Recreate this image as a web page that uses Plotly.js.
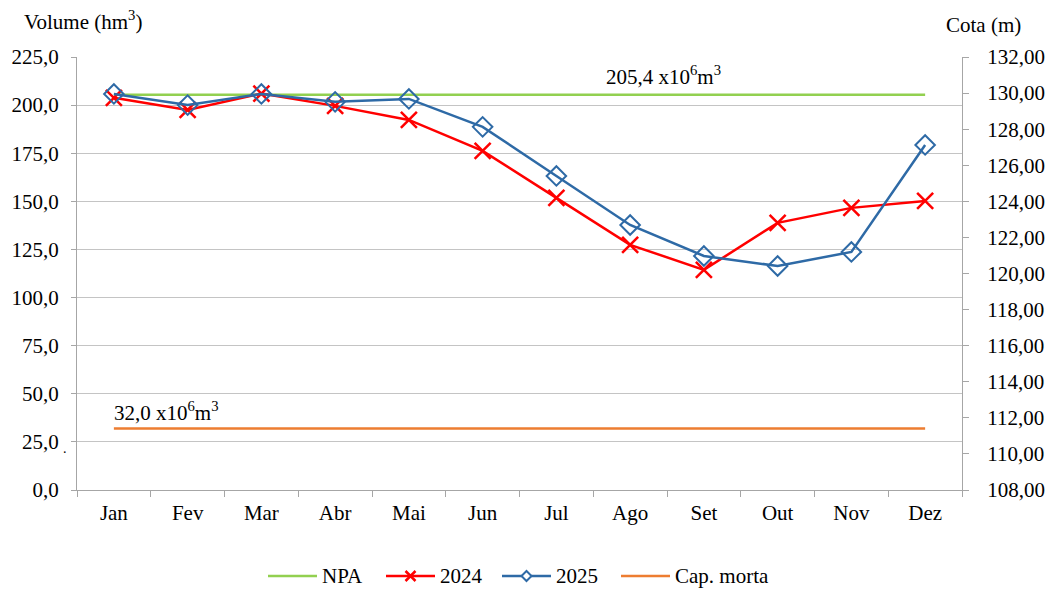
<!DOCTYPE html>
<html>
<head>
<meta charset="utf-8">
<script src="https://cdn.plot.ly/plotly-3.0.1.min.js"></script>
<style>html,body{margin:0;padding:0;background:#fff;}#chart{width:1048px;height:589px;}</style>
</head>
<body>
<div id="chart"></div>
<script>
var months = ["Jan","Fev","Mar","Abr","Mai","Jun","Jul","Ago","Set","Out","Nov","Dez"];
var vol2024 = [203.8, 197.5, 206.0, 199.6, 192.3, 176.2, 151.8, 127.4, 114.4, 138.8, 146.6, 150.2];
var vol2025 = [205.8, 200.0, 205.8, 201.7, 203.2, 188.7, 163.2, 137.7, 121.6, 116.4, 123.7, 179.3];
var npaValue = 205.4;
var capMortaValue = 32.0;
var seriesNames = ["NPA", "2024", "2025", "Cap. morta"];
var seriesColors = ["#92d050", "#ff0000", "#2e6aa6", "#ed7d31"];
var npa = months.map(function(){return npaValue;});
var capMorta = months.map(function(){return capMortaValue;});

var FONT = "Liberation Serif";
var FS = 21;
var traces = [
  {x: months, y: npa, name: seriesNames[0], mode: "lines", line: {color: seriesColors[0], width: 2.5}},
  {x: months, y: vol2024, name: seriesNames[1], mode: "lines+markers", line: {color: seriesColors[1], width: 2.5},
   marker: {symbol: "x-thin-open", size: 16, line: {color: seriesColors[1], width: 2.5}}},
  {x: months, y: vol2025, name: seriesNames[2], mode: "lines+markers", line: {color: seriesColors[2], width: 2.5},
   marker: {symbol: "diamond-open", size: 15, color: seriesColors[2], line: {color: seriesColors[2], width: 2}}},
  {x: months, y: capMorta, name: seriesNames[3], mode: "lines", line: {color: seriesColors[3], width: 2.5}},
  {x: months, y: months.map(function(){return null;}), yaxis: "y2", showlegend: false, hoverinfo: "skip", mode: "lines"}
];

// custom legend (Excel style, longer sample lines)
var L = 77, W = 885, B = 490, H = 433;
function px(p){ return (p - L) / W; }
var legY = (B - 576) / H;
var legLineStart = [268, 386, 502, 621];
var legLineLen = 49;
var legMarker = [null, "x", "d", null];
var shapes = [];
var legendAnn = [];
seriesNames.forEach(function(n, i){
  var x0 = legLineStart[i];
  shapes.push({type: "line", xref: "paper", yref: "paper", x0: px(x0), x1: px(x0 + legLineLen), y0: legY, y1: legY,
               line: {color: seriesColors[i], width: 2.5}});
  var cx = px(x0 + legLineLen / 2);
  if (legMarker[i] === "x") {
    shapes.push({type: "path", xref: "paper", yref: "paper", xsizemode: "pixel", ysizemode: "pixel",
                 xanchor: cx, yanchor: legY, path: "M-5,-5L5,5M-5,5L5,-5", line: {color: seriesColors[i], width: 2.5}});
  } else if (legMarker[i] === "d") {
    shapes.push({type: "path", xref: "paper", yref: "paper", xsizemode: "pixel", ysizemode: "pixel",
                 xanchor: cx, yanchor: legY, path: "M0,-5L5,0L0,5L-5,0Z", fillcolor: "#fff",
                 line: {color: seriesColors[i], width: 2}});
  }
  legendAnn.push({xref: "paper", yref: "paper", x: px(x0 + legLineLen + 3), y: legY, xanchor: "left", yanchor: "middle",
                  text: n, showarrow: false, font: {family: FONT, size: FS}});
});

var layout = {
  width: 1048, height: 589,
  margin: {l: L, r: 1048 - L - W, t: 57, b: 589 - B, autoexpand: false},
  paper_bgcolor: "#fff", plot_bgcolor: "#fff",
  separators: ", ",
  font: {family: FONT, size: FS, color: "#000"},
  showlegend: false,
  xaxis: {type: "category", range: [-0.5, 11.5], showgrid: false, showline: true, linecolor: "#a6a6a6",
          linewidth: 1, ticks: "outside", tickson: "boundaries", ticklen: 6, tickcolor: "#a6a6a6",
          tickfont: {family: FONT, size: FS}, zeroline: false, ticklabelstandoff: 4},
  yaxis: {range: [0, 225], dtick: 25, tickformat: ".1f", showgrid: true, gridcolor: "#c4c4c4", gridwidth: 1,
          showline: true, linecolor: "#a6a6a6", ticks: "outside", ticklen: 5, tickcolor: "#a6a6a6",
          zeroline: false, tickfont: {family: FONT, size: FS}, ticklabelstandoff: 8},
  yaxis2: {overlaying: "y", side: "right", range: [108, 132], dtick: 2, tickformat: ".2f", showgrid: false,
           showline: true, linecolor: "#a6a6a6", ticks: "outside", ticklen: 6, tickcolor: "#a6a6a6",
           zeroline: false, tickfont: {family: FONT, size: FS}, ticklabelstandoff: 14},
  shapes: shapes,
  annotations: [
    {xref: "x", yref: "y", x: 7.45, y: 215.5, text: "205,4 x10<sup>6</sup>m<sup>3</sup>", showarrow: false,
     font: {family: FONT, size: FS}},
    {xref: "x", yref: "y", x: -0.03, y: 41, xanchor: "left", text: "32,0 x10<sup>6</sup>m<sup>3</sup>", showarrow: false,
     font: {family: FONT, size: FS}},
    {xref: "paper", yref: "paper", x: -0.062, y: 1.085, xanchor: "left", yanchor: "middle",
     text: "Volume (hm<sup>3</sup>)", showarrow: false, font: {family: FONT, size: FS}},
    {xref: "paper", yref: "paper", x: 1.024, y: 1.074, xanchor: "center", yanchor: "middle",
     text: "Cota (m)", showarrow: false, font: {family: FONT, size: FS}},
    {xref: "paper", yref: "paper", x: -0.013, y: 0.095, xanchor: "center", yanchor: "middle",
     text: ".", showarrow: false, font: {family: FONT, size: 14}}
  ].concat(legendAnn)
};

Plotly.newPlot("chart", traces, layout, {displayModeBar: false, staticPlot: true});
</script>
</body>
</html>
